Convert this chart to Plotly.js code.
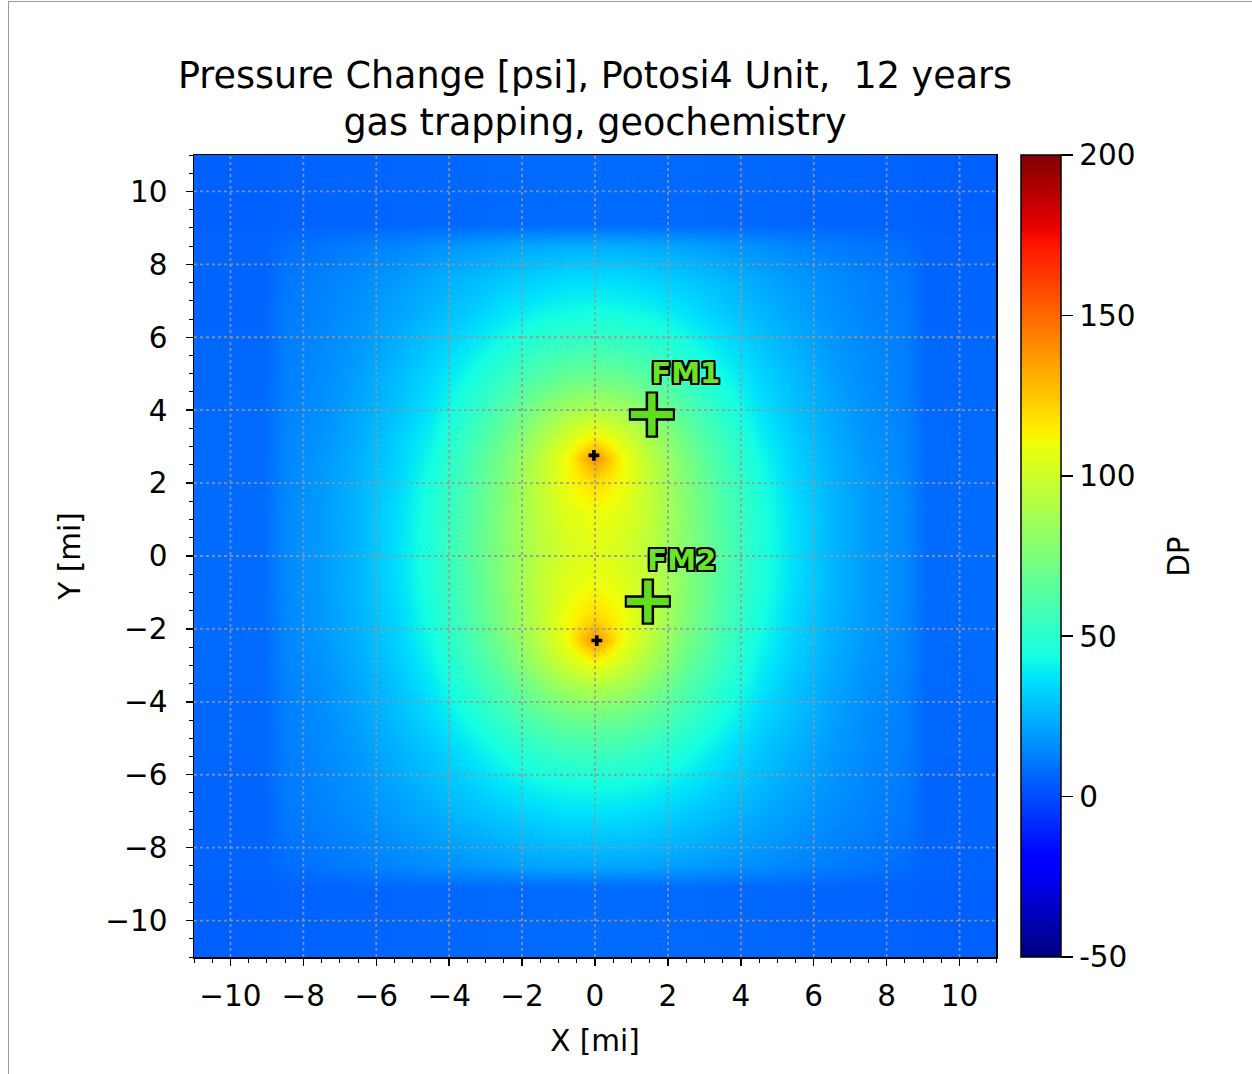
<!DOCTYPE html>
<html>
<head>
<meta charset="utf-8">
<script src="https://cdn.plot.ly/plotly-3.0.1.min.js"></script>
<style>
  html, body { margin: 0; padding: 0; background: #ffffff; }
  #wrap { position: relative; width: 1252px; height: 1074px; }
  #chart { position: absolute; left: 0; top: 0; width: 1252px; height: 1074px; }
  #frame { position: absolute; left: 8px; top: 1px; width: 1244px; height: 1073px;
           border-left: 1px solid #9a9a9a; border-top: 1px solid #9a9a9a; pointer-events: none; }
</style>
</head>
<body>
<div id="wrap"><div id="chart"></div><div id="frame"></div></div>
<script>
// ---- data ----
// sample positions (mi) of the pressure-change field
const xCenters = [-11, -9.1, -8.5, -7.5, -6.5, -5.5, -4.5, -3.5, -2.5, -1.5, -0.75, 0, 0.75, 1.5, 2.5, 3.5, 4.5, 5.5, 6.5, 7.5, 8.5, 9.1, 11];
const yCenters = [-11, -9.1, -8.5, -7.2, -6.2, -5.3, -4.4, -3.6, -2.9, -2.3, -1.7, -0.8, 0.2, 1.2, 2.1, 2.7, 3.3, 4.1, 4.9, 5.8, 6.7, 7.6, 8.5, 9.1, 11];
// pressure change DP [psi], one row per yCenters entry (bottom to top)
const dpRows = [
  [4.8,4.8,5.3,5.7,6,6.2,6.5,6.8,7,7.3,7.5,7.5,7.5,7.3,7,6.8,6.5,6.2,6,5.7,5.3,4.8,4.8],
  [4.8,4.8,5.3,5.7,6,6.2,6.5,6.8,7,7.3,7.5,7.5,7.5,7.3,7,6.8,6.5,6.2,6,5.7,5.3,4.8,4.8],
  [5.5,5.5,8,10,12,14,16,18,20,21.5,22,22,22,21.5,20,18,16,14,12,10,8,5.5,5.5],
  [6,6,10.5,13,15.5,19,22.5,26.5,30,33,35,35,35,33,30,26.5,22.5,19,15.5,13,10.5,6,6],
  [6,6,11.5,14,17.5,22,27,32,38,42,44,45,44,42,38,32,27,22,17.5,14,11.5,6,6],
  [6.5,6.5,12,15,19,24.5,30,37.5,45.5,52,56,57,56,52,45.5,37.5,30,24.5,19,15,12,6.5,6.5],
  [6.5,6.5,12.5,15.5,21,27.5,34.5,44,54.5,65,70,72,70,65,54.5,44,34.5,27.5,21,15.5,12.5,6.5,6.5],
  [7,7,13,16.5,22,28.5,37.5,49,62,77,87,91,87,77,62,49,37.5,28.5,22,16.5,13,7,7],
  [7,7,14,17.5,23.5,31,40.5,54,69,88,102,112,102,88,69,54,40.5,31,23.5,17.5,14,7,7],
  [7.5,7.5,14,18.5,24.5,32,43,57,73.5,94,111,140,111,94,73.5,57,43,32,24.5,18.5,14,7.5,7.5],
  [7.5,7.5,14.5,19,25,33,45,59,76,96,111,121,111,96,76,59,45,33,25,19,14.5,7.5,7.5],
  [7.5,7.5,15,19.5,26,35,47,61,78,96,106,110,106,96,78,61,47,35,26,19.5,15,7.5,7.5],
  [7.5,7.5,15,19.5,25.5,35.5,47,62,78,94,102,106,102,94,78,62,47,35.5,25.5,19.5,15,7.5,7.5],
  [7.5,7.5,15,19.5,26,35,47,61,78,96,106,110,106,96,78,61,47,35,26,19.5,15,7.5,7.5],
  [7.5,7.5,14.5,19,25,33,45,59,76,96,111,121,111,96,76,59,45,33,25,19,14.5,7.5,7.5],
  [7.5,7.5,14,18.5,24.5,32,43,57,73.5,94,111,140,111,94,73.5,57,43,32,24.5,18.5,14,7.5,7.5],
  [7,7,14,17.5,23.5,31,40.5,54,69,88,102,112,102,88,69,54,40.5,31,23.5,17.5,14,7,7],
  [7,7,13,16.5,22,28,37,48,61,76,85,89,85,76,61,48,37,28,22,16.5,13,7,7],
  [6.5,6.5,12.5,15.5,20.5,27,34,43,53,63,68,70,68,63,53,43,34,27,20.5,15.5,12.5,6.5,6.5],
  [6.5,6.5,12,15,18.5,24,30,37,44.5,51,54.5,55.5,54.5,51,44.5,37,30,24,18.5,15,12,6.5,6.5],
  [6,6,11.5,13.5,17,21,26,31,37,41,43,44,43,41,37,31,26,21,17,13.5,11.5,6,6],
  [6,6,10.5,13,15.5,19,22.5,26.5,30,33,35,35,35,33,30,26.5,22.5,19,15.5,13,10.5,6,6],
  [5.5,5.5,8.5,10,12,14,16.5,19,21.5,23,24,24,24,23,21.5,19,16.5,14,12,10,8.5,5.5,5.5],
  [4.8,4.8,5.3,5.7,6,6.2,6.5,6.8,7,7.3,7.5,7.5,7.5,7.3,7,6.8,6.5,6.2,6,5.7,5.3,4.8,4.8],
  [4.8,4.8,5.3,5.7,6,6.2,6.5,6.8,7,7.3,7.5,7.5,7.5,7.3,7,6.8,6.5,6.2,6,5.7,5.3,4.8,4.8]
];
// injection wells
const wellX = [-0.03, 0.05];
const wellY = [2.76, -2.32];
// monitoring points
const monitorNames = ['FM1', 'FM2'];
const monitorX = [1.56, 1.45];
const monitorY = [3.88, -1.25];
const labelX = [2.49, 2.38];
const labelY = [4.95, -0.18];
// axes / colorbar ticks
const gridTicks = [-10, -8, -6, -4, -2, 0, 2, 4, 6, 8, 10];
const cbTickVals = [-50, 0, 50, 100, 150, 200];
const cbTickText = ['-50', '0', '50', '100', '150', '200'];

// ---- styling ----
const FONT = 'DejaVu Sans';
const TICK = 29.5;
const jet = [
  [0, 'rgb(0,0,128)'], [0.11, 'rgb(0,0,255)'], [0.125, 'rgb(0,0,255)'],
  [0.34, 'rgb(0,219,255)'], [0.35, 'rgb(0,230,247)'], [0.375, 'rgb(21,255,226)'],
  [0.64, 'rgb(239,255,8)'], [0.65, 'rgb(247,246,0)'], [0.66, 'rgb(255,236,0)'],
  [0.89, 'rgb(255,19,0)'], [0.91, 'rgb(232,0,0)'], [1, 'rgb(128,0,0)']
];

// dotted grid lines drawn above the field, below the markers
const gx = [], gy = [];
gridTicks.forEach(t => { gx.push(t, t, null); gy.push(-11, 11, null); });
gridTicks.forEach(t => { gx.push(-11, 11, null); gy.push(t, t, null); });

const outline = '-2px -2px 0 #000, 2px -2px 0 #000, -2px 2px 0 #000, 2px 2px 0 #000, 0 2px 0 #000, 2px 0 0 #000, 0 -2px 0 #000, -2px 0 0 #000';

const traces = [
  {
    type: 'heatmap', x: xCenters, y: yCenters, z: dpRows,
    zmin: -50, zmax: 200, zsmooth: 'best', colorscale: jet, hoverinfo: 'skip',
    colorbar: {
      thickness: 40, thicknessmode: 'pixels', len: 1, lenmode: 'fraction',
      x: 1.031, xanchor: 'left', xpad: 0, y: 0.5, yanchor: 'middle', ypad: 0,
      outlinewidth: 1.5, outlinecolor: '#000',
      tickmode: 'array', tickvals: cbTickVals, ticktext: cbTickText,
      ticks: 'outside', ticklen: 12, tickwidth: 1.5, tickcolor: '#000',
      tickfont: {family: FONT, size: TICK, color: '#000'}
    }
  },
  {
    type: 'scatter', mode: 'lines', x: gx, y: gy, hoverinfo: 'skip',
    line: {color: 'rgba(150,150,150,0.85)', width: 1.8, dash: 'dot'}
  },
  {
    type: 'scatter', mode: 'markers', x: wellX, y: wellY, hoverinfo: 'skip',
    marker: {symbol: 'cross', size: 9, color: '#000'}
  },
  {
    type: 'scatter', mode: 'markers', x: monitorX, y: monitorY, hoverinfo: 'skip',
    marker: {symbol: 'cross-thin', size: 33, color: '#000', line: {color: '#000', width: 12.5}}
  },
  {
    type: 'scatter', mode: 'markers', x: monitorX, y: monitorY, hoverinfo: 'skip',
    marker: {symbol: 'cross-thin', size: 30, color: '#62dc1e', line: {color: '#62dc1e', width: 7.5}}
  },
  {
    type: 'scatter', mode: 'text', x: labelX, y: labelY, text: monitorNames, hoverinfo: 'skip',
    textposition: 'middle center',
    textfont: {family: FONT, size: 29, weight: 'bold', color: '#6ae526', shadow: outline}
  }
];

const axisCommon = {
  range: [-11, 11], autorange: false, tickmode: 'array', tickvals: gridTicks,
  ticks: 'outside', ticklen: 7, tickwidth: 1.5, tickcolor: '#000',
  showline: true, linecolor: '#000', linewidth: 1.5, mirror: true,
  showgrid: false, zeroline: false,
  tickfont: {family: FONT, size: TICK, color: '#000'},
  minor: {dtick: 0.5, tick0: 0, ticks: 'outside', ticklen: 4, tickwidth: 1, tickcolor: '#000', showgrid: false}
};

const layout = {
  width: 1252, height: 1074,
  margin: {l: 194, r: 256, t: 155, b: 117, pad: 0},
  paper_bgcolor: '#ffffff', plot_bgcolor: '#ffffff',
  font: {family: FONT, color: '#000'},
  showlegend: false,
  title: {
    text: 'Pressure Change [psi], Potosi4 Unit,\u00a0 12 years<br>gas trapping, geochemistry',
    font: {family: FONT, size: 36.5, color: '#000'},
    x: 0.5, xref: 'paper', xanchor: 'center',
    y: 1, yref: 'paper', yanchor: 'bottom', pad: {b: 67}
  },
  xaxis: Object.assign({}, axisCommon, {ticklabelstandoff: 5,
    title: {text: 'X [mi]', font: {family: FONT, size: TICK}, standoff: 18}}),
  yaxis: Object.assign({}, axisCommon, {ticklabelstandoff: 12,
    title: {text: 'Y [mi]', font: {family: FONT, size: TICK}, standoff: 16}}),
  annotations: [{
    text: 'DP', xref: 'paper', yref: 'paper', x: 1.228, y: 0.5,
    xanchor: 'center', yanchor: 'middle', textangle: -90, showarrow: false,
    font: {family: FONT, size: TICK, color: '#000'}
  }]
};

Plotly.newPlot('chart', traces, layout, {staticPlot: true, displayModeBar: false});
</script>
</body>
</html>
